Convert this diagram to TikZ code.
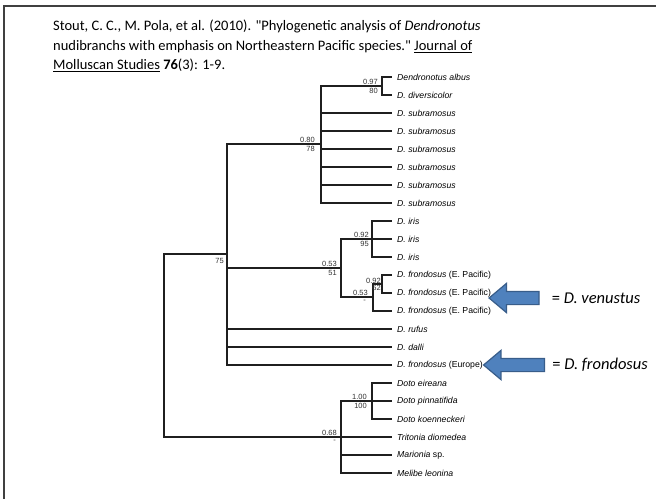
\documentclass[tikz,border=0pt]{standalone}
\usepackage{fontspec}
\setmainfont{Carlito}[Ligatures=TeXOff]
\newfontfamily\treefont{Liberation Sans}
\usetikzlibrary{positioning,shapes.arrows}
\definecolor{arrowblue}{HTML}{4F81BD}
\definecolor{arrowedge}{HTML}{385D8A}
\tikzset{
  node distance=1pt and 4pt,
  branch/.style={line width=1.2pt, draw=black!88},
  leaf/.style={
    anchor=west, inner xsep=5pt, inner ysep=0pt,
    font=\treefont\fontsize{8.7}{10}\selectfont
  },
  supp/.style={
    inner sep=0pt, text=black!80,
    font=\treefont\fontsize{7.5}{8}\selectfont
  },
  cite/.style={
    anchor=north west, inner sep=0pt, align=left,
    font=\fontsize{14.5}{19.5}\selectfont
  },
  bigarrow/.style={
    single arrow, shape border rotate=180,
    fill=arrowblue, draw=arrowedge, line width=1.2pt,
    inner xsep=0pt, inner ysep=6pt,
    single arrow head extend=8pt, single arrow tip angle=80,
    minimum height=50pt
  },
  synonym/.style={anchor=west, inner sep=0pt, font=\fontsize{16.5}{18}\selectfont},
  frame/.style={line width=2pt, draw=black!75}
}

\begin{document}
\begin{tikzpicture}[x=1pt, y=-1pt]

\path[fill=white, use as bounding box] (0,0) rectangle (656,499);
\draw[frame] (656,6) -- (3.5,6) -- (3.5,499);

%% ===========================================================================
%% Reference
%% ===========================================================================
\node[cite] (ref) at (53,20)
  {Stout, C. C., M. Pola, et al. (2010). "Phylogenetic analysis of \textit{Dendronotus}\\
   nudibranchs with emphasis on Northeastern Pacific species." \underline{Journal of}\\
   \underline{Molluscan Studies} \textbf{76}(3): 1-9.};

%% ===========================================================================
%% Tree: leaves
%% ===========================================================================
\node[leaf] (albus)  at (392,77) {\textit{Dendronotus albus}};
\node[leaf] (divers) at (392,95) {\textit{D. diversicolor}};
\foreach \i in {1,...,6}
  \node[leaf] (sub\i) at (392,{95+18*\i}) {\textit{D. subramosus}};
\foreach \i in {1,2,3}
  \node[leaf] (iris\i) at (392,{203+18*\i}) {\textit{D. iris}};
\foreach \i in {1,2,3}
  \node[leaf] (fron\i) at (392,{257+18*\i}) {\textit{D. frondosus} (E. Pacific)};
\node[leaf] (rufus)    at (392,329) {\textit{D. rufus}};
\node[leaf] (dalli)    at (392,347) {\textit{D. dalli}};
\node[leaf] (europe)   at (392,365) {\textit{D. frondosus} (Europe)};
\node[leaf] (eireana)  at (392,383) {\textit{Doto eireana}};
\node[leaf] (pinna)    at (392,401) {\textit{Doto pinnatifida}};
\node[leaf] (koen)     at (392,419) {\textit{Doto koenneckeri}};
\node[leaf] (tritonia) at (392,437) {\textit{Tritonia diomedea}};
\node[leaf] (marionia) at (392,455) {\textit{Marionia} sp.};
\node[leaf] (melibe)   at (392,473) {\textit{Melibe leonina}};

%% ===========================================================================
%% Tree: inner nodes and branches
%% ===========================================================================
\coordinate (albusN)    at (382,86);
\coordinate (subN)      at (321,144);
\coordinate (n75)       at (227,254);
\coordinate (irisfronN) at (341,268);
\coordinate (irisN)     at (372,239);
\coordinate (fronN)     at (373,297);
\coordinate (fronpairN) at (382,284);
\coordinate (dotoN)     at (372,401);
\coordinate (outN)      at (341,437);
\coordinate (root)      at (164,345);

\draw[branch] (albusN) |- (albus.west)  (albusN) |- (divers.west);
\draw[branch] (subN) |- (albusN);
\foreach \i in {1,...,6}
  \draw[branch] (subN) |- (sub\i.west);

\foreach \i in {1,2,3}
  \draw[branch] (irisN) |- (iris\i.west);
\draw[branch] (fronpairN) |- (fron1.west)  (fronpairN) |- (fron2.west);
\draw[branch] (fronN) |- (fronpairN)  (fronN) |- (fron3.west);
\draw[branch] (irisfronN) |- (irisN)  (irisfronN) |- (fronN);

\draw[branch] (n75) |- (subN)  (n75) |- (irisfronN);
\draw[branch] (n75) |- (rufus.west)  (n75) |- (dalli.west)  (n75) |- (europe.west);

\draw[branch] (dotoN) |- (eireana.west)  (dotoN) |- (pinna.west)  (dotoN) |- (koen.west);
\draw[branch] (outN) |- (dotoN)  (outN) |- (tritonia.west);
\draw[branch] (outN) |- (marionia.west)  (outN) |- (melibe.west);

\draw[branch] (root) |- (n75)  (root) |- (outN);

% support values
\node[supp, above left=1pt and 4pt of albusN]      (albusPP)  {0.97};
\node[supp, below left=2.5pt and 4pt of albusN]    (albusBS)  {80};
\node[supp, above left=1pt and 6pt of subN]        (subPP)    {0.80};
\node[supp, below left=2.5pt and 6pt of subN]      (subBS)    {78};
\node[supp, below left=4pt and 3pt of n75]         (n75BS)    {75};
\node[supp, above left=1pt and 4pt of irisfronN]   (ifPP)     {0.53};
\node[supp, below left=2.5pt and 4pt of irisfronN] (ifBS)     {51};
\node[supp, above left=1pt and 3pt of irisN]       (irisPP)   {0.92};
\node[supp, below left=2.5pt and 3pt of irisN]     (irisBS)   {95};
\node[supp, above left=1pt and 5pt of fronN]       (fronPP)   {0.53};
\node[supp, below left=3pt and 7pt of fronN]       (fronBS)   {-};
\node[supp, above left=0.5pt and 1pt of fronpairN] (pairPP)   {0.92};
\node[supp, below left=1.5pt and 1pt of fronpairN] (pairBS)   {62};
\node[supp, above left=1pt and 5pt of dotoN]       (dotoPP)   {1.00};
\node[supp, below left=2.5pt and 5pt of dotoN]     (dotoBS)   {100};
\node[supp, above left=1pt and 4pt of outN]        (outPP)    {0.68};
\node[supp, below left=3pt and 5pt of outN]        (outBS)    {-};

%% ===========================================================================
%% Synonym arrows
%% ===========================================================================
\node[bigarrow] (venArrow) at (518,298) {};
\node[synonym, right=12pt of venArrow.tail] (venus) {= \textit{D. venustus}};

\node[bigarrow, minimum height=61pt] (froArrow) at (518,365) {};
\node[synonym, right=7pt of froArrow.tail] (frond) {= \textit{D. frondosus}};

\end{tikzpicture}
\end{document}
